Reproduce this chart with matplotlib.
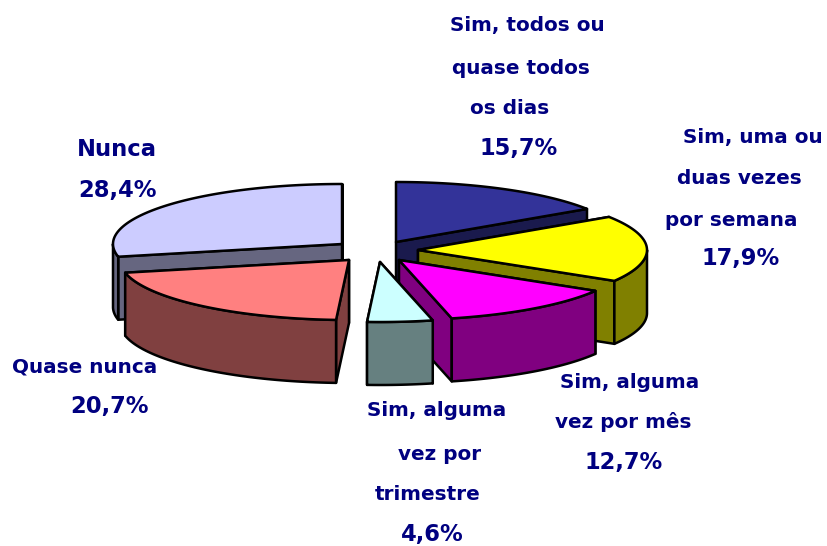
import numpy as np
import matplotlib
matplotlib.use("Agg")
import matplotlib.pyplot as plt
from matplotlib.patches import Polygon

# data
categories = ["Sim, todos ou quase todos os dias", "Sim, uma ou duas vezes por semana",
              "Sim, alguma vez por mês", "Sim, alguma vez por trimestre",
              "Quase nunca", "Nunca"]
values = [15.7, 17.9, 12.7, 4.6, 20.7, 28.4]

# style
top_colors = ["#333399", "#FFFF00", "#FF00FF", "#CCFFFF", "#FF8080", "#CCCCFF"]
side_colors = ["#1A1A4D", "#808000", "#800080", "#668080", "#804040", "#666680"]
apex_x = [396, 418, 399, 380, 349, 342]
apex_y = [242, 250, 260, 262, 260, 244]
draw_order = [5, 0, 1, 2, 3, 4]
RX, RY, DEPTH = 229, 60, 63
LW = 1.8
SMALL, LARGE = 14.4, 16.3

labels = [
    ("Sim, todos ou", 527, 26, SMALL), ("quase todos", 521, 68, SMALL), ("os dias", 510, 109, SMALL),
    ("15,7%", 519, 149, LARGE),
    ("Sim, uma ou", 753, 138, SMALL), ("duas vezes", 739, 179, SMALL), ("por semana", 731, 220, SMALL),
    ("17,9%", 741, 259, LARGE),
    ("Sim, alguma", 630, 382, SMALL), ("vez por mês", 623, 422, SMALL), ("12,7%", 624, 462, LARGE),
    ("Sim, alguma", 437, 411, SMALL), ("vez por", 440, 454, SMALL), ("trimestre", 428, 495, SMALL),
    ("4,6%", 432, 534, LARGE),
    ("Quase nunca", 85, 367, SMALL), ("20,7%", 110, 407, LARGE),
    ("Nunca", 117, 150, LARGE), ("28,4%", 117, 191, LARGE),
]

plt.rcParams["font.family"] = ["DejaVu Sans"]
fig = plt.figure(figsize=(8.27, 5.46), dpi=100)
ax = fig.add_axes([0, 0, 1, 1])
ax.set_xlim(0, 827)
ax.set_ylim(546, 0)
ax.axis("off")


def pt(i, deg):
    t = np.radians(deg)
    return apex_x[i] + RX * np.sin(t), apex_y[i] - RY * np.cos(t)


def face(points, color):
    ax.add_patch(Polygon(points, closed=True, facecolor=color, edgecolor="black",
                         linewidth=LW, joinstyle="round"))


edges = np.concatenate([[0], np.cumsum(values)]) / sum(values) * 360
for i in draw_order:
    a0, a1 = edges[i], edges[i + 1]
    apex = (apex_x[i], apex_y[i])
    apex_low = (apex[0], apex[1] + DEPTH)
    # radial walls, rear one first
    walls = sorted([a0, a1], key=lambda a: pt(i, a)[1])
    for a in walls:
        p = pt(i, a)
        face([apex, p, (p[0], p[1] + DEPTH), apex_low], side_colors[i])
    # outer wall, front half only
    lo, hi = max(a0, 90), min(a1, 270)
    if hi > lo:
        arc = [pt(i, a) for a in np.linspace(lo, hi, 60)]
        low = [(x, y + DEPTH) for x, y in arc][::-1]
        face(arc + low, side_colors[i])
    # top
    rim = [pt(i, a) for a in np.linspace(a0, a1, 120)]
    face([apex] + rim, top_colors[i])

for s, x, y, fs in labels:
    ax.text(x, y, s, ha="center", va="center", fontsize=fs, fontweight="bold", color="#000080")

fig.savefig("out.png", dpi=100)
